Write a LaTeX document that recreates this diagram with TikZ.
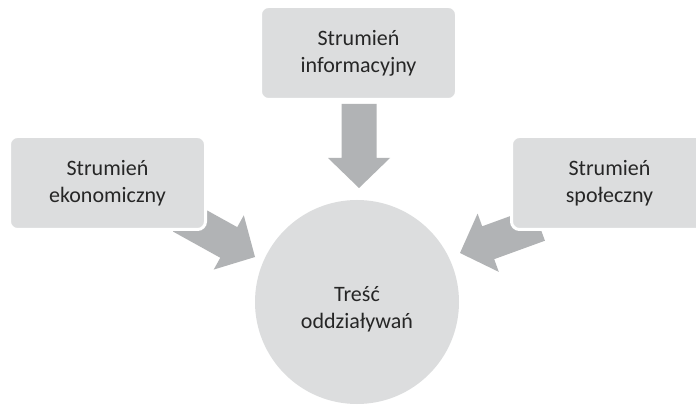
\documentclass[tikz,border=0pt]{standalone}
\usepackage{fontspec}
\setmainfont{Carlito}
\definecolor{boxgray}{HTML}{DCDDDE}
\definecolor{arrowgray}{HTML}{B1B3B5}
\definecolor{ink}{HTML}{262626}
\begin{document}
\begin{tikzpicture}[x=1pt,y=-1pt,
  label text/.style={text=ink, align=center, font=\fontsize{22}{27}\selectfont},
  stream/.style={label text, rectangle, rounded corners=8pt, fill=boxgray,
    draw=white, line width=3pt, minimum width=196pt, minimum height=93pt, inner sep=0pt},
  core/.style={circle, fill=boxgray, minimum size=204pt, inner sep=0pt},
  flow/.style={fill=arrowgray}]
\clip (0,0) rectangle (696,406);
\fill[white] (0,0) rectangle (696,406);

% tips of the block arrows
\coordinate (tipInfo) at (359,188);
\coordinate (tipEcon) at (255,257);
\coordinate (tipSocial) at (460,253);

% block arrows pointing at the centre
\foreach \tip/\ang in {tipInfo/-90, tipEcon/-29, tipSocial/-160}{
  \fill[flow, shift={(\tip)}, rotate=\ang]
    (0,0) -- (-30,31) -- (-30,17.5) -- (-84,17.5) -- (-84,-17.5)
    -- (-30,-17.5) -- (-30,-31) -- cycle;
}

% the three streams
\node[stream] (info) at (358.5,53) {Strumień\\informacyjny};
\node[stream] (econ) at (107.5,183) {Strumień\\ekonomiczny};
\node[stream] (social) at (609.5,183) {Strumień\\społeczny};

% central circle and its caption
\node[core] (core) at (357,302) {};
\node[label text] (coreText) at ([yshift=-7pt]core.center) {Treść\\oddziaływań};
\end{tikzpicture}
\end{document}
